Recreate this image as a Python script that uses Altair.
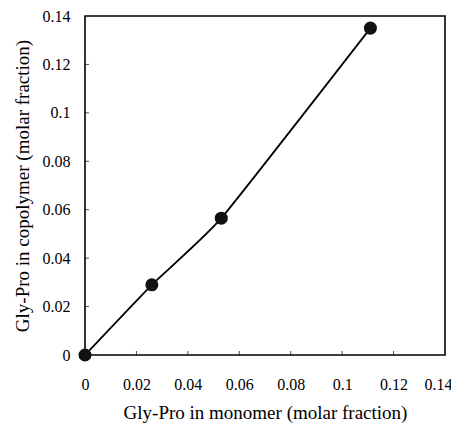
import altair as alt
import pandas as pd

monomer = [0.0, 0.026, 0.053, 0.111]
copolymer = [0.0, 0.029, 0.0565, 0.135]
ticks_x = [0.02, 0.04, 0.06, 0.08, 0.10, 0.12]
ticks_y = [0.02, 0.04, 0.06, 0.08, 0.10, 0.12]
labels = [0, 0.02, 0.04, 0.06, 0.08, 0.1, 0.12, 0.14]

df = pd.DataFrame({"m": monomer, "c": copolymer})
tx = pd.DataFrame({"t": ticks_x})
ty = pd.DataFrame({"t": ticks_y})

FONT = "Liberation Serif"
xscale = alt.Scale(domain=[0, 0.14], nice=False, zero=True)
yscale = alt.Scale(domain=[0, 0.14], nice=False, zero=True)

xaxis = alt.Axis(values=labels, format=".2~f", grid=False, ticks=False,
                 domain=False, labelFont=FONT, labelFontSize=16, labelColor="black",
                 labelPadding=21, title="Gly-Pro in monomer (molar fraction)",
                 labelOffset=alt.condition("datum.value > 0.135", alt.value(-7), alt.value(0)),
                 titleFont=FONT, titleFontSize=19, titleFontWeight="normal", titleColor="black",
                 titlePadding=11, labelFlush=False)
yaxis = alt.Axis(values=labels, format=".2~f", grid=False, ticks=False,
                 domain=False, labelFont=FONT, labelFontSize=16, labelColor="black",
                 labelPadding=15, title="Gly-Pro in copolymer (molar fraction)",
                 titleFont=FONT, titleFontSize=19, titleFontWeight="normal", titleColor="black",
                 titlePadding=10, labelFlush=False)

line = alt.Chart(df).mark_line(color="black", strokeWidth=1.8, interpolate="cardinal", tension=0.55).encode(
    x=alt.X("m:Q", scale=xscale, axis=xaxis),
    y=alt.Y("c:Q", scale=yscale, axis=yaxis),
)
pts = alt.Chart(df).mark_circle(color="#111111", opacity=1, size=170).encode(
    x=alt.X("m:Q", scale=xscale),
    y=alt.Y("c:Q", scale=yscale),
)
xt = alt.Chart(tx).mark_tick(orient="vertical", color="black", size=4, thickness=1, yOffset=-2).encode(
    x=alt.X("t:Q", scale=xscale),
    y=alt.datum(0, scale=yscale),
)
yt = alt.Chart(ty).mark_tick(orient="horizontal", color="black", size=4, thickness=1, xOffset=2).encode(
    x=alt.datum(0, scale=xscale),
    y=alt.Y("t:Q", scale=yscale),
)

chart = alt.layer(line, xt, yt, pts).properties(
    width=360, height=339,
    autosize=alt.AutoSizeParams(type="none"),
    padding={"left": 77, "top": 8, "right": 6, "bottom": 68},
    background="white",
).configure_view(stroke="black", strokeWidth=1.6)

chart.save("out.html", embed_options={"renderer": "svg", "actions": False})
